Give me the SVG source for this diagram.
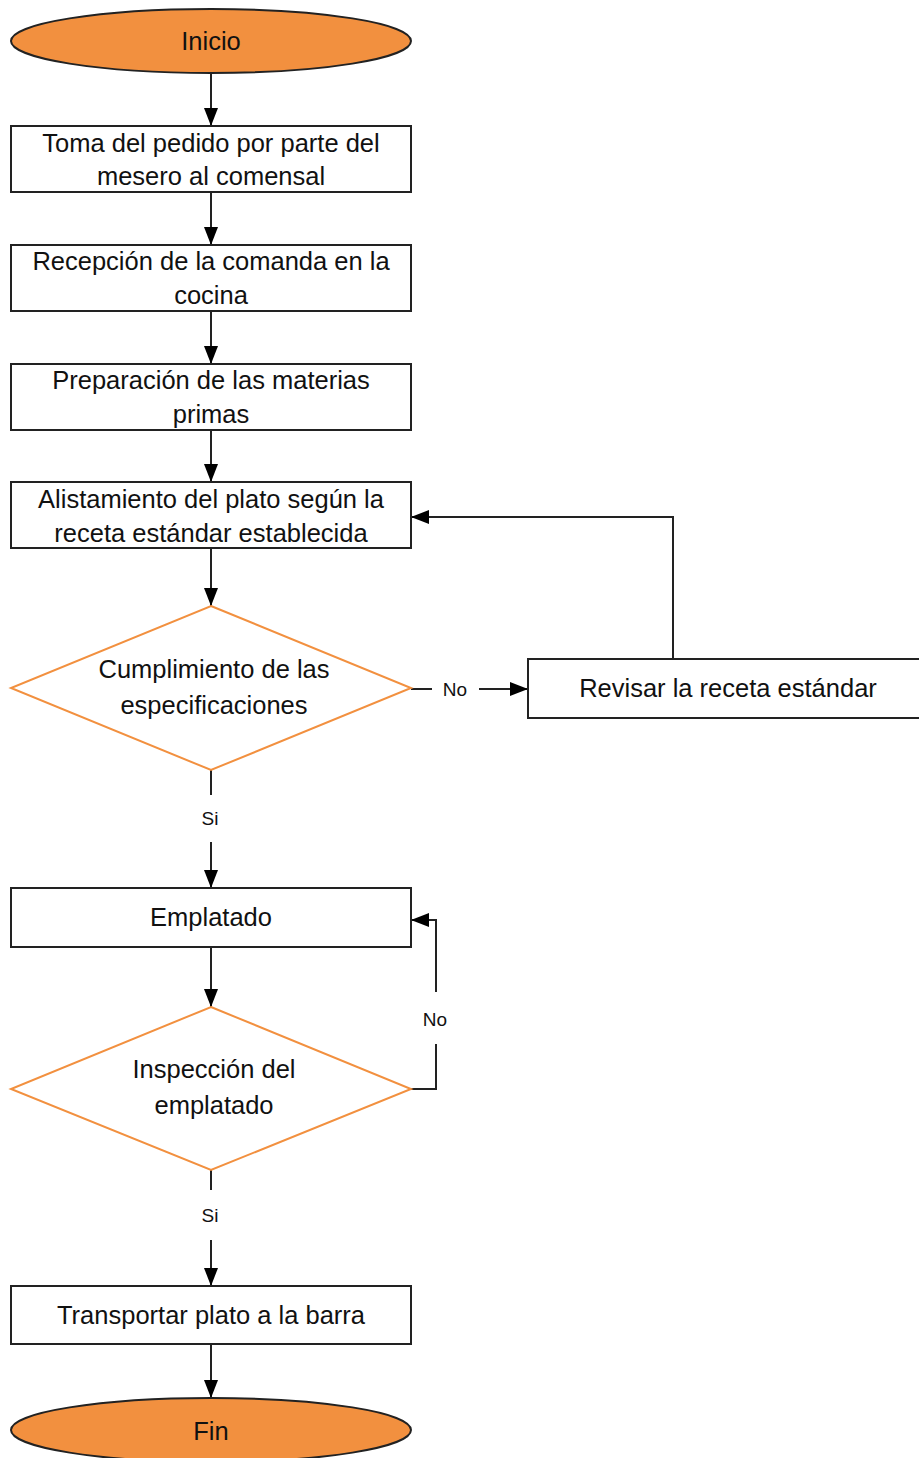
<svg xmlns="http://www.w3.org/2000/svg" width="919" height="1458" viewBox="0 0 919 1458">
  <defs>
    <marker id="arrow" markerWidth="18" markerHeight="14" refX="18" refY="7" orient="auto" markerUnits="userSpaceOnUse">
      <path d="M0,0 L18,7 L0,14 Z" fill="#000"/>
    </marker>
    <style>
      .term { fill: #F2903F; stroke: #222; stroke-width: 2; }
      .box { fill: #fff; stroke: #222; stroke-width: 2; }
      .dec { fill: #fff; stroke: #F2903F; stroke-width: 2; }
      .lbl { font-family: "Liberation Sans", Arial, sans-serif; font-size: 25.5px; fill: #111; text-anchor: middle; }
      .small { font-family: "Liberation Sans", Arial, sans-serif; font-size: 19px; fill: #111; text-anchor: middle; }
      .conn { fill: none; stroke: #222; stroke-width: 2; }
    </style>
  </defs>
  <rect width="919" height="1458" fill="#fff"/>

  <!-- connectors -->
  <g id="connectors">
    <path class="conn" d="M211,73 V126" marker-end="url(#arrow)"/>
    <path class="conn" d="M211,192 V245" marker-end="url(#arrow)"/>
    <path class="conn" d="M211,311 V364" marker-end="url(#arrow)"/>
    <path class="conn" d="M211,430 V482" marker-end="url(#arrow)"/>
    <path class="conn" d="M211,548 V606" marker-end="url(#arrow)"/>
    <!-- No branch to review -->
    <path class="conn" d="M411,689 H432"/>
    <path class="conn" d="M479,689 H528" marker-end="url(#arrow)"/>
    <text class="small" x="455" y="696">No</text>
    <!-- loop back to step 4 -->
    <path class="conn" d="M673,659 V517 H411" marker-end="url(#arrow)"/>
    <!-- Si branch -->
    <path class="conn" d="M211,770 V795"/>
    <text class="small" x="210" y="825">Si</text>
    <path class="conn" d="M211,842 V888" marker-end="url(#arrow)"/>
    <path class="conn" d="M211,947 V1007" marker-end="url(#arrow)"/>
    <!-- inspection loop -->
    <path class="conn" d="M411,1089 H436 V1044"/>
    <text class="small" x="435" y="1026">No</text>
    <path class="conn" d="M436,992 V920 H411" marker-end="url(#arrow)"/>
    <path class="conn" d="M211,1170 V1190"/>
    <text class="small" x="210" y="1222">Si</text>
    <path class="conn" d="M211,1240 V1286" marker-end="url(#arrow)"/>
    <path class="conn" d="M211,1344 V1398" marker-end="url(#arrow)"/>
  </g>

  <g id="inicio">
    <ellipse class="term" cx="211" cy="41" rx="200" ry="32"/>
    <text class="lbl" x="211" y="50">Inicio</text>
  </g>

  <g id="toma-pedido">
    <rect class="box" x="11" y="126" width="400" height="66"/>
    <text class="lbl" x="211" y="152">Toma del pedido por parte del</text>
    <text class="lbl" x="211" y="185">mesero al comensal</text>
  </g>

  <g id="recepcion">
    <rect class="box" x="11" y="245" width="400" height="66"/>
    <text class="lbl" x="211" y="270">Recepción de la comanda en la</text>
    <text class="lbl" x="211" y="304">cocina</text>
  </g>

  <g id="preparacion">
    <rect class="box" x="11" y="364" width="400" height="66"/>
    <text class="lbl" x="211" y="389">Preparación de las materias</text>
    <text class="lbl" x="211" y="423">primas</text>
  </g>

  <g id="alistamiento">
    <rect class="box" x="11" y="482" width="400" height="66"/>
    <text class="lbl" x="211" y="508">Alistamiento del plato según la</text>
    <text class="lbl" x="211" y="542">receta estándar establecida</text>
  </g>

  <g id="cumplimiento">
    <polygon class="dec" points="211,606 411,688 211,770 11,688"/>
    <text class="lbl" x="214" y="678">Cumplimiento de las</text>
    <text class="lbl" x="214" y="714">especificaciones</text>
  </g>

  <g id="revisar">
    <rect class="box" x="528" y="659" width="400" height="59"/>
    <text class="lbl" x="728" y="697">Revisar la receta estándar</text>
  </g>

  <g id="emplatado">
    <rect class="box" x="11" y="888" width="400" height="59"/>
    <text class="lbl" x="211" y="926">Emplatado</text>
  </g>

  <g id="inspeccion">
    <polygon class="dec" points="211,1007 411,1089 211,1170 11,1089"/>
    <text class="lbl" x="214" y="1078">Inspección del</text>
    <text class="lbl" x="214" y="1114">emplatado</text>
  </g>

  <g id="transportar">
    <rect class="box" x="11" y="1286" width="400" height="58"/>
    <text class="lbl" x="211" y="1324">Transportar plato a la barra</text>
  </g>

  <g id="fin">
    <ellipse class="term" cx="211" cy="1430" rx="200" ry="32"/>
    <text class="lbl" x="211" y="1440">Fin</text>
  </g>
</svg>
